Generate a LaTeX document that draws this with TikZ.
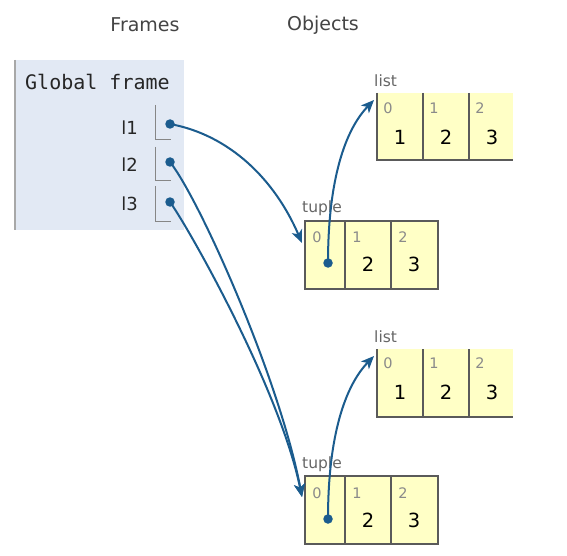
\documentclass[tikz,border=0pt]{standalone}
\usepackage{fontspec}
\setmainfont{DejaVu Sans}
\setmonofont{DejaVu Sans Mono}
\usetikzlibrary{arrows.meta}
\definecolor{framebg}{HTML}{E2E9F4}
\definecolor{frameedge}{HTML}{A8A8A8}
\definecolor{cellbg}{HTML}{FFFFC6}
\definecolor{celledge}{HTML}{5A5A5A}
\definecolor{ptr}{HTML}{1B5C8E}
\definecolor{hdr}{HTML}{444444}
\definecolor{idx}{HTML}{8A8A8A}
\definecolor{lbl}{HTML}{666666}
\tikzset{
  hdrtext/.style={text=hdr,font=\fontsize{19}{21}\selectfont,inner sep=0pt},
  vartext/.style={text=black!85,font=\fontsize{18}{20}\selectfont,inner sep=0pt,anchor=east},
  idxtext/.style={text=idx,font=\fontsize{14.5}{16}\selectfont,inner sep=0pt},
  valtext/.style={text=black,font=\fontsize{19.5}{21}\selectfont,inner sep=0pt},
  typetext/.style={text=lbl,font=\fontsize{15.5}{17}\selectfont,inner sep=0pt,anchor=west},
  ptrdot/.style={circle,fill=ptr,inner sep=0pt,minimum size=9.5pt},
  ptrline/.style={draw=ptr,line width=2pt,-{Stealth[length=13pt,width=11pt,inset=3.5pt]}},
  slotline/.style={draw=frameedge!80!black,line width=1pt},
  cellline/.style={draw=celledge,line width=1.1pt}
}
\begin{document}
\begin{tikzpicture}[x=1pt,y=-1pt]
\useasboundingbox (0,0) rectangle (567,556);
\fill[white] (0,0) rectangle (567,556);
% headers
\node[hdrtext] (hframes) at (145,25) {Frames};
\node[hdrtext] (hobjects) at (323,25) {Objects};
% global frame
\fill[framebg] (15,60) rectangle (184,230);
\draw[frameedge,line width=1.2pt] (15,60) -- (15,230);
\node[inner sep=0pt,anchor=west,font=\ttfamily\fontsize{20}{22}\selectfont,text=black!85] (gf) at (25,82) {Global frame};
\node[vartext] (v1) at (138,128) {l1};
\node[vartext] (v2) at (138,165) {l2};
\node[vartext] (v3) at (138,204) {l3};
\draw[slotline] (155,105) -- (155,140) -- (171,140);
\draw[slotline] (155,147) -- (155,181) -- (171,181);
\draw[slotline] (155,186) -- (155,221) -- (171,221);
\node[ptrdot] (d1) at (170,124) {};
\node[ptrdot] (d2) at (170,162) {};
\node[ptrdot] (d3) at (170,202) {};
% top list
\node[typetext] (L1lbl) at (374,81) {list};
\fill[cellbg] (377,93) rectangle (513,160);
\draw[cellline] (377,93) -- (377,160) -- (513,160);
\draw[cellline] (423,93) -- (423,160);
\draw[cellline] (469,93) -- (469,160);
\node[idxtext] (L1i0) at (388,108) {0};
\node[idxtext] (L1i1) at (434,108) {1};
\node[idxtext] (L1i2) at (480,108) {2};
\node[valtext] (L1v0) at (400,137) {1};
\node[valtext] (L1v1) at (446,137) {2};
\node[valtext] (L1v2) at (492,137) {3};
\coordinate (L1in) at (374,100);
% top tuple
\node[typetext] (T1lbl) at (302,208) {tuple};
\fill[cellbg] (305,221) rectangle (438,289);
\draw[cellline] (305,221) rectangle (438,289);
\draw[cellline] (345,221) -- (345,289);
\draw[cellline] (391,221) -- (391,289);
\node[idxtext] (T1i0) at (317,237) {0};
\node[idxtext] (T1i1) at (357,237) {1};
\node[idxtext] (T1i2) at (403,237) {2};
\node[valtext] (T1v1) at (368,264) {2};
\node[valtext] (T1v2) at (414,264) {3};
\node[ptrdot] (T1d) at (328,263) {};
\coordinate (T1in) at (302,243);
% bottom list
\node[typetext] (L2lbl) at (374,337) {list};
\fill[cellbg] (377,349) rectangle (513,417);
\draw[cellline] (377,349) -- (377,417) -- (513,417);
\draw[cellline] (423,349) -- (423,417);
\draw[cellline] (469,349) -- (469,417);
\node[idxtext] (L2i0) at (388,363) {0};
\node[idxtext] (L2i1) at (434,363) {1};
\node[idxtext] (L2i2) at (480,363) {2};
\node[valtext] (L2v0) at (400,392) {1};
\node[valtext] (L2v1) at (446,392) {2};
\node[valtext] (L2v2) at (492,392) {3};
\coordinate (L2in) at (374,356);
% bottom tuple
\node[typetext] (T2lbl) at (302,464) {tuple};
\fill[cellbg] (305,476) rectangle (438,544);
\draw[cellline] (305,476) rectangle (438,544);
\draw[cellline] (345,476) -- (345,544);
\draw[cellline] (391,476) -- (391,544);
\node[idxtext] (T2i0) at (317,493) {0};
\node[idxtext] (T2i1) at (357,493) {1};
\node[idxtext] (T2i2) at (403,493) {2};
\node[valtext] (T2v1) at (368,520) {2};
\node[valtext] (T2v2) at (414,520) {3};
\node[ptrdot] (T2d) at (328,519) {};
\coordinate (T2in) at (302,497);
% pointers
\draw[ptrline] (d1.center) .. controls (230,135) and (275,180) .. (T1in);
\draw[ptrline] (T1d.center) .. controls (328,180) and (345,130) .. (L1in);
\draw[ptrline] (d2.center) .. controls (200,200) and (280,380) .. (T2in);
\draw[ptrline] (d3.center) .. controls (190,230) and (280,390) .. (T2in);
\draw[ptrline] (T2d.center) .. controls (328,436) and (345,386) .. (L2in);
\end{tikzpicture}
\end{document}
